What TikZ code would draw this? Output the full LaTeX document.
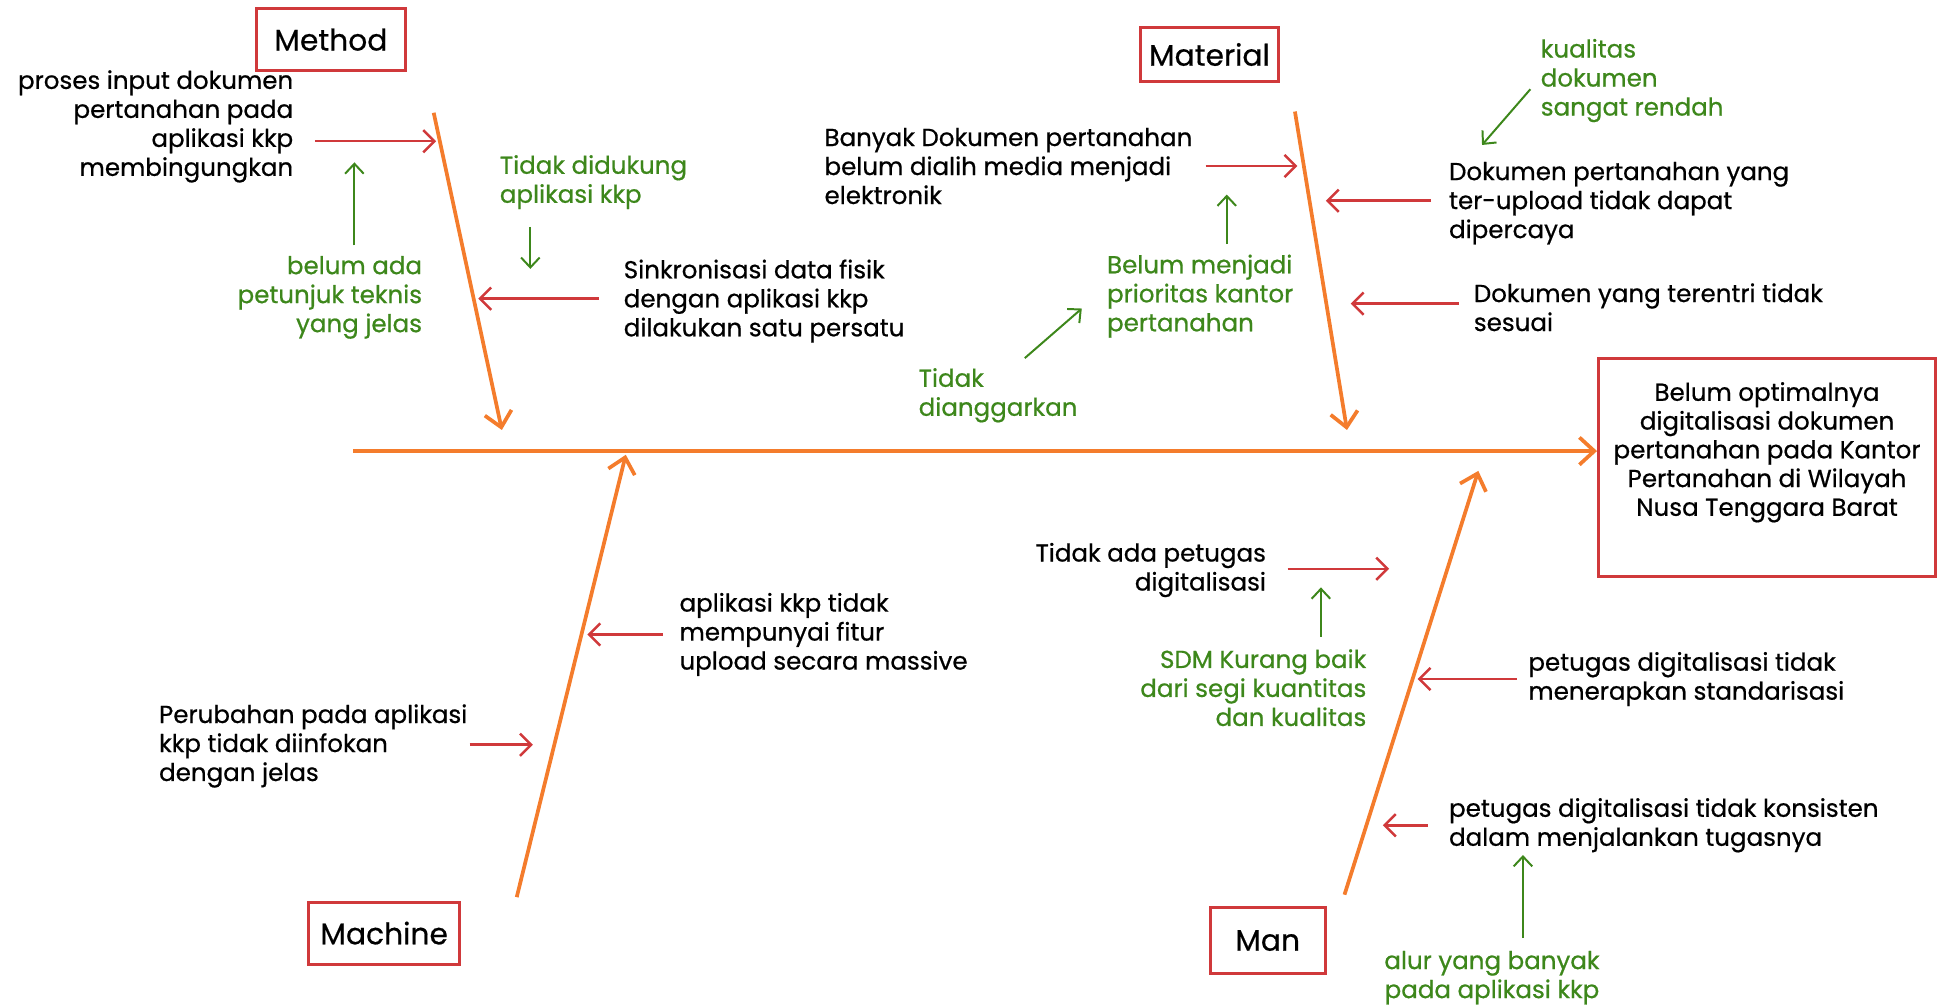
\documentclass[tikz,border=0pt]{standalone}
\usepackage{fontspec}
\setmainfont{Poppins}[UprightFeatures={FakeBold=0.6}]
\usetikzlibrary{arrows.meta}
\definecolor{fbred}{RGB}{208,57,59}
\definecolor{fborange}{RGB}{244,124,44}
\definecolor{fbgreen}{RGB}{61,135,27}
\tikzset{
  txt/.style={inner sep=0pt,font=\fontsize{9.9}{11.7}\selectfont},
  txtl/.style={txt,anchor=west,align=left},
  txtr/.style={txt,anchor=east,align=right},
  gtxt/.style={text=fbgreen},
  catbox/.style={draw=fbred,line width=1.2pt,inner sep=2pt,
    font=\fontsize{12}{14}\selectfont},
  effbox/.style={draw=fbred,line width=1.2pt,minimum width=136pt,
    minimum height=88pt},
  efftxt/.style={align=center,inner sep=0pt,
    font=\fontsize{9.9}{11.6}\selectfont},
  bone/.style={fborange,line width=1.5pt,
    -{Straight Barb[length=6pt,width=11pt,line width=1.5pt]}},
  cause/.style={fbred,line width=1pt,
    -{Straight Barb[length=4.5pt,width=9pt]}},
  subcause/.style={fbgreen,line width=0.8pt,
    -{Straight Barb[length=4pt,width=7.5pt]}},
}
\begin{document}
\begin{tikzpicture}[x=0.5pt,y=-0.5pt]
  \useasboundingbox (0,0) rectangle (1568,812);

  % category boxes and effect
  \node[catbox,minimum width=60pt,minimum height=25pt] (method) at (267,32) {Method};
  \node[catbox,minimum width=56pt,minimum height=21.5pt] (material) at (976,44) {Material};
  \node[catbox,minimum width=61pt,minimum height=25pt] (machine) at (310,753) {Machine};
  \node[catbox,minimum width=46.5pt,minimum height=27pt] (man) at (1023,759) {Man};
  \node[effbox] (effframe) at (1426,377) {};
  \node[efftxt] (effect) at (1426,365) {Belum optimalnya\\digitalisasi dokumen\\pertanahan pada Kantor\\Pertanahan di Wilayah\\Nusa Tenggara Barat};

  % bones
  \coordinate (spine) at (285,364);
  \draw[bone] (spine) -- (spine -| effframe.west);
  \foreach \nm/\sx/\sy/\ex/\ey in {mtdb/350/91/405/347, matb/1045/90/1087/347,
      mchb/417/724/505/367, manb/1085/722/1193/380} {
    \coordinate (\nm-s) at (\sx,\sy);
    \coordinate (\nm-e) at (\ex,\ey);
    \draw[bone] (\nm-s) -- (\nm-e);
  }

  % Method
  \node[txtr] (mtd1) at (237,102) {proses input dokumen\\pertanahan pada\\aplikasi kkp\\membingungkan};
  \node[txtr,gtxt] (mtd1g) at (341,240) {belum ada\\petunjuk teknis\\yang jelas};
  \node[txtl,gtxt] (mtd2g) at (403,147) {Tidak didukung\\aplikasi kkp};
  \node[txtl] (mtd2) at (503,243) {Sinkronisasi data fisik\\dengan aplikasi kkp\\dilakukan satu persatu};

  % Material
  \node[txtl] (mat1) at (665,134) {Banyak Dokumen pertanahan\\belum dialih media menjadi\\elektronik};
  \node[txtl,gtxt] (mat1g) at (893,239) {Belum menjadi\\prioritas kantor\\pertanahan};
  \node[txtl,gtxt] (mat1gg) at (741,319) {Tidak\\dianggarkan};
  \node[txtl,gtxt] (mat2g) at (1243,65) {kualitas\\dokumen\\sangat rendah};
  \node[txtl] (mat2) at (1169,164) {Dokumen pertanahan yang\\ter-upload tidak dapat\\dipercaya};
  \node[txtl] (mat3) at (1189,248) {Dokumen yang terentri tidak\\sesuai};

  % Machine
  \node[txtl] (mch1) at (548,512) {aplikasi kkp tidak\\mempunyai fitur\\upload secara massive};
  \node[txtl] (mch2) at (128,602) {Perubahan pada aplikasi\\kkp tidak diinfokan\\dengan jelas};

  % Man
  \node[txtr] (man1) at (1022,460) {Tidak ada petugas\\digitalisasi};
  \node[txtr,gtxt] (man1g) at (1103,555) {SDM Kurang baik\\dari segi kuantitas\\dan kualitas};
  \node[txtl] (man2) at (1233,548) {petugas digitalisasi tidak\\menerapkan standarisasi};
  \node[txtl] (man3) at (1169,666) {petugas digitalisasi tidak konsisten\\dalam menjalankan tugasnya};
  \node[txt,gtxt,align=center] (man3g) at (1204,789) {alur yang banyak\\pada aplikasi kkp};

  % cause arrows
  \foreach \nm/\sx/\sy/\ex/\ey in {c1/254/114/352/114, c2/483/241/386/241,
      c3/973/134/1047/134, c4/1155/162/1070/162, c5/1177/245/1090/245,
      c6/535/512/474/512, c7/379/601/430/601, c8/1039/459/1121/459,
      c9/1224/548/1144/548, c10/1152/666/1116/666} {
    \coordinate (\nm-s) at (\sx,\sy);
    \coordinate (\nm-e) at (\ex,\ey);
    \draw[cause] (\nm-s) -- (\nm-e);
  }

  % sub-cause arrows
  \foreach \nm/\sx/\sy/\ex/\ey in {g1/286/198/286/131, g2/428/183/428/217,
      g3/990/197/990/157, g4/827/289/873/249, g5/1235/72/1196/117,
      g6/1066/514/1066/474, g7/1229/757/1229/690} {
    \coordinate (\nm-s) at (\sx,\sy);
    \coordinate (\nm-e) at (\ex,\ey);
    \draw[subcause] (\nm-s) -- (\nm-e);
  }
\end{tikzpicture}
\end{document}
